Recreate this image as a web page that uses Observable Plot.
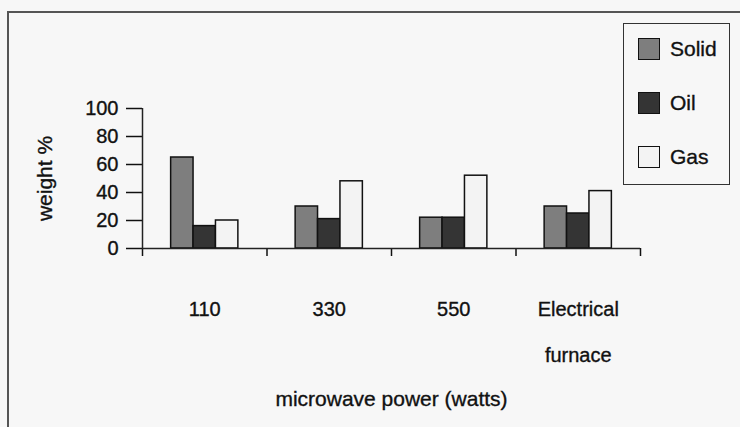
<!DOCTYPE html>
<html>
<head>
<meta charset="utf-8">
<script src="https://cdn.jsdelivr.net/npm/d3@7"></script>
<script src="https://cdn.jsdelivr.net/npm/@observablehq/plot@0.6"></script>
<style>
  html, body { margin: 0; padding: 0; background: #f7f7f7; }
  #wrap { position: relative; width: 740px; height: 427px; overflow: hidden;
          font-family: "Liberation Sans", Arial, sans-serif; color: #111; }
  #outer { position: absolute; left: 7px; top: 11px; width: 760px; height: 440px;
           border-left: 2px solid #555; border-top: 2px solid #555; }
  #legend { position: absolute; left: 623px; top: 23px; width: 107px; height: 162px;
            border: 1.5px solid #333; box-sizing: border-box; }
  .item { position: absolute; left: 14px; height: 22px; display: flex; align-items: center;
          font-size: 21px; -webkit-text-stroke: 0.35px #111; }
  .sw { width: 22px; height: 22px; border: 1.5px solid #111; box-sizing: border-box; margin-right: 10px; flex: none; }
  #chart { position: absolute; left: 0; top: 0; }
  #chart svg text { stroke: #111; stroke-width: 0.35px; }
</style>
</head>
<body>
<div id="wrap">
  <div id="outer"></div>
  <div id="chart"></div>
  <div id="legend"></div>
</div>
<script>
// Product yields (weight %) by heating source
const categories = ["110", "330", "550", "Electrical\nfurnace"];
const series = ["Solid", "Oil", "Gas"];
const solid = [65, 30, 22, 30];
const oil = [16, 21, 22, 25];
const gas = [20, 48, 52, 41];
const yTicks = [0, 20, 40, 60, 80, 100];
const colors = ["#7e7e7e", "#343434", "#f3f3f3"];

const values = {Solid: solid, Oil: oil, Gas: gas};
const data = categories.flatMap((cat, i) =>
  series.map((s, j) => ({cat, i, series: s, j, value: values[s][i]}))
);

// each category occupies one unit; the three bars share the middle part of it
const groupFrac = 0.54;
const barFrac = groupFrac / series.length;
const start = (1 - groupFrac) / 2;

const chart = Plot.plot({
  width: 740,
  height: 427,
  marginLeft: 142,
  marginRight: 100,
  marginTop: 108,
  marginBottom: 179,
  style: {fontFamily: "'Liberation Sans', Arial, sans-serif", fontSize: "20px", background: "transparent", color: "#111"},
  x: {domain: [0, categories.length], axis: null},
  y: {domain: [0, 100], axis: null},
  color: {domain: series, range: colors},
  marks: [
    Plot.axisY({ticks: yTicks, tickSize: 16, tickPadding: 8, label: null, strokeWidth: 1.5, fontSize: 20}),
    Plot.ruleX([0], {y1: 0, y2: 100, stroke: "#222", strokeWidth: 1.5}),
    Plot.axisX({ticks: d3.range(categories.length + 1), tickSize: 8, tickFormat: () => "", label: null, strokeWidth: 1.5}),
    Plot.axisX({
      ticks: categories.map((c, i) => i + 0.5),
      tickSize: 0,
      tickPadding: 35,
      tickFormat: (d) => categories[Math.floor(d)],
      lineHeight: 2.3,
      label: null,
      fontSize: 20
    }),
    Plot.rect(data, {
      x1: (d) => d.i + start + d.j * barFrac,
      x2: (d) => d.i + start + (d.j + 1) * barFrac,
      y1: 0,
      y2: "value",
      fill: "series",
      stroke: "#111",
      strokeWidth: 1.5
    }),
    Plot.ruleY([0], {stroke: "#222", strokeWidth: 1.5}),
    Plot.text(["weight %"], {frameAnchor: "left", dx: -97, rotate: -90, lineAnchor: "middle", textAnchor: "middle", fontSize: 21}),
    Plot.text(["microwave power (watts)"], {frameAnchor: "bottom", dy: 157, lineAnchor: "bottom", textAnchor: "middle", fontSize: 21})
  ]
});
document.getElementById("chart").append(chart);

// legend
const legend = document.getElementById("legend");
series.forEach((s, k) => {
  const item = document.createElement("div");
  item.className = "item";
  item.style.top = (14 + k * 54) + "px";
  const sw = document.createElement("div");
  sw.className = "sw";
  sw.style.background = colors[k];
  const label = document.createElement("span");
  label.textContent = s;
  item.append(sw, label);
  legend.append(item);
});
</script>
</body>
</html>
